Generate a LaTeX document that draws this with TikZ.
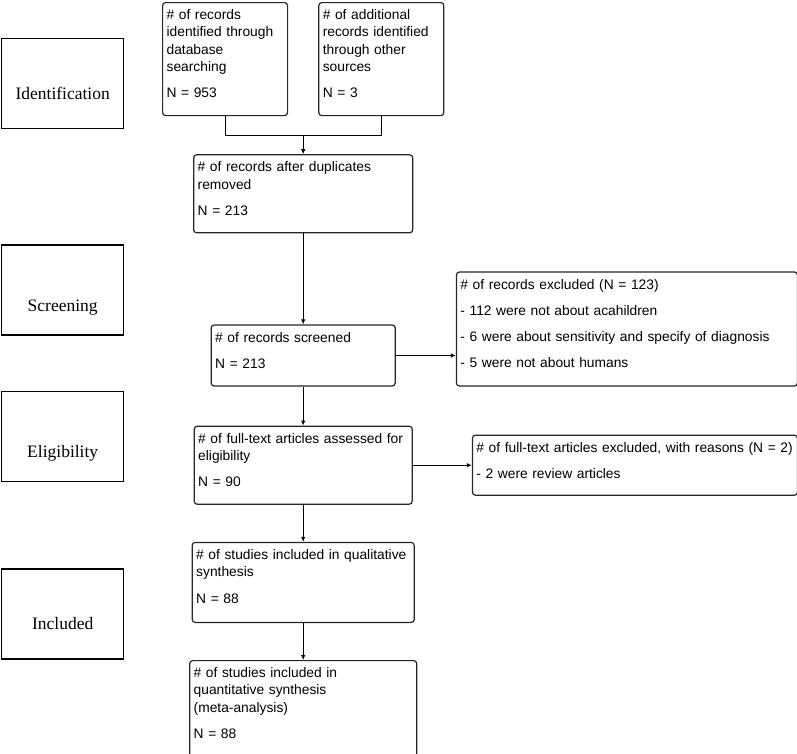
\documentclass[tikz,border=0pt]{standalone}
\usepackage{fontspec}
\usepackage{tikz}
\usetikzlibrary{arrows.meta,positioning,calc}
\newfontfamily\boxfont{Liberation Sans}
\newfontfamily\stagefont{Liberation Serif}

\begin{document}
\begin{tikzpicture}[
    x=1pt, y=1pt,
    node distance=38pt,
    line width=1.1pt,
    >={Latex[length=5pt,width=4.5pt]},
    stage/.style={rectangle, draw, line width=1.4pt, anchor=north west, minimum width=122pt, inner sep=0pt, text height=61pt, text depth=29pt, font=\stagefont\fontsize{17.5}{20}\selectfont},
    box/.style 2 args={rectangle, draw=black!85, line width=1.2pt, rounded corners=3pt, anchor=north west, align=left, inner xsep=4pt, inner ysep=0pt, text height=17pt, text width=#1, text depth=#2, font=\boxfont\fontsize{13.8}{17.3}\selectfont}
]
\useasboundingbox (0,0) rectangle (797,-753);

% Stages
\node [stage] (ident) at (1,-38) {Identification};
\node [stage, text height=66pt, text depth=24pt, below=115pt of ident] (screen) {Screening};
\node [stage, text height=66pt, text depth=24pt, below=55pt of screen] (elig) {Eligibility};
\node [stage, below=86pt of elig] (incl) {Included};

% Identification
\node [box={117pt}{96pt}] (dbase) at (162,-2) {\# of records\\identified through\\database\\searching\\[9pt]N = 953};
\node [box={117pt}{96pt}, right=30pt of dbase] (other) {\# of additional\\records identified\\through other\\sources\\[9pt]N = 3};
\node [box={211pt}{61pt}, anchor=north] (dup) at ($(dbase.south)!.5!(other.south)+(0,-38)$) {\# of records after duplicates\\removed\\[9pt]N = 213};
\coordinate (merge) at ($(dup.north)+(0,19)$);

% Screening
\node [box={176pt}{44pt}, below=91pt of dup] (screened) {\# of records screened\\[9pt]N = 213};
\node [box={333pt}{97pt}, above right=0pt and 60pt of screened.south east] (excl) {\# of records excluded (N = 123)\\[9pt]- 112 were not about acahildren\\[9pt]- 6 were about sensitivity and specify of diagnosis\\[9pt]- 5 were not about humans};

% Eligibility
\node [box={210pt}{61pt}, below=39pt of screened] (fulltext) {\# of full-text articles assessed for\\eligibility\\[9pt]N = 90};
\node [box={317pt}{43pt}, right=59pt of fulltext] (ftexcl) {\# of full-text articles excluded, with reasons (N = 2)\\[9pt]- 2 were review articles};

% Included
\node [box={214pt}{63pt}, below=37pt of fulltext] (qual) {\# of studies included in qualitative\\synthesis\\[9pt]N = 88};
\node [box={219pt}{80pt}, below=37pt of qual] (quant) {\# of studies included in\\quantitative synthesis\\(meta-analysis)\\[9pt]N = 88};

% Connections
\draw (dbase.south) |- (merge) -| (other.south);
\draw [->] (merge) -- (dup);
\draw [->] (dup) -- (screened);
\draw [->] (screened) -- (screened -| excl.west);
\draw [->] (screened) -- (fulltext);
\draw [->] (fulltext) -- (fulltext -| ftexcl.west);
\draw [->] (fulltext) -- (qual);
\draw [->] (qual) -- (quant);

\end{tikzpicture}
\end{document}
